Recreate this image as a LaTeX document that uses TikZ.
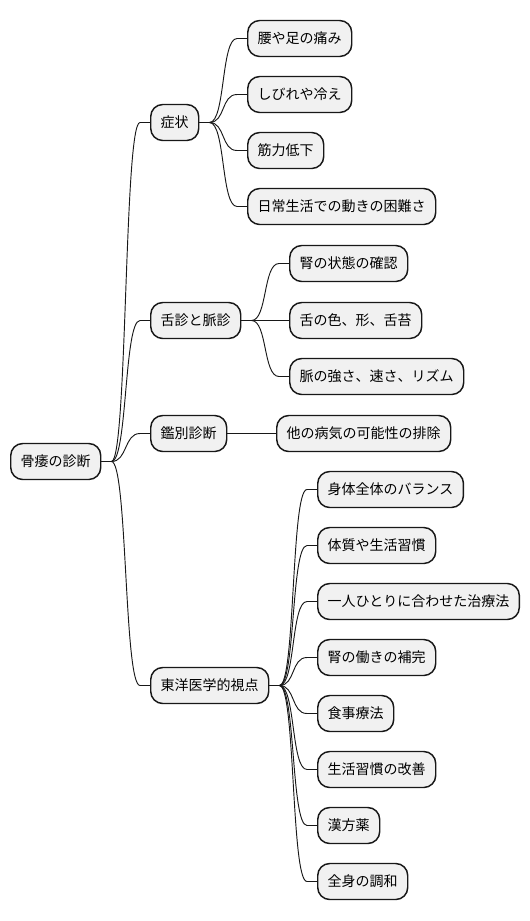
\documentclass[tikz,border=0pt]{standalone}
\usepackage{fontspec}
\newfontfamily\jpfont{Noto Sans CJK JP}
\definecolor{boxfill}{HTML}{F1F1F1}
\definecolor{boxline}{HTML}{181818}
\tikzset{
  topic/.style={draw=boxline,fill=boxfill,line width=1.1pt,rounded corners=9pt,
    minimum height=27pt,inner xsep=7.5pt,inner ysep=0pt,anchor=west,
    font=\jpfont\fontsize{10.5pt}{12pt}\selectfont},
  link/.style={draw=boxline,line width=0.7pt},
  branch/.style={to path={-- ++(10,0) .. controls +(16,0) and +(-16,0) .. ([xshift=-7.5pt]\tikztotarget.west) -- (\tikztotarget.west)}}
}
\begin{document}
\begin{tikzpicture}[x=0.75pt,y=-0.75pt]
\useasboundingbox (0,0) rectangle (530,921);

% root
\node[topic] (root) at (10,461.5) {骨痿の診断};

% first level
\node[topic] (sym) at (150,122.5) {症状};
\node[topic] (tongue) at (150,320.5) {舌診と脈診};
\node[topic] (diff) at (150,433.5) {鑑別診断};
\node[topic] (east) at (150,685.5) {東洋医学的視点};

% symptoms
\node[topic] (sym1) at (247,38.5) {腰や足の痛み};
\node[topic] (sym2) at (247,94.5) {しびれや冷え};
\node[topic] (sym3) at (247,150.5) {筋力低下};
\node[topic] (sym4) at (247,206.5) {日常生活での動きの困難さ};

% tongue and pulse
\node[topic] (tongue1) at (289,263.5) {腎の状態の確認};
\node[topic] (tongue2) at (289,320.5) {舌の色、形、舌苔};
\node[topic] (tongue3) at (289,376.5) {脈の強さ、速さ、リズム};

% differential
\node[topic] (diff1) at (276,433.5) {他の病気の可能性の排除};

% eastern view
\foreach \t [count=\i] in {身体全体のバランス,体質や生活習慣,一人ひとりに合わせた治療法,腎の働きの補完,食事療法,生活習慣の改善,漢方薬,全身の調和}
  \node[topic] (east\i) at (317,{433.5+56*\i}) {\t};

% connectors
\foreach \n in {sym,tongue,diff,east}
  \draw[link] (root.east) to[branch] (\n);
\foreach \i in {1,...,4}
  \draw[link] (sym.east) to[branch] (sym\i);
\foreach \i in {1,...,3}
  \draw[link] (tongue.east) to[branch] (tongue\i);
\draw[link] (diff.east) -- (diff1.west);
\foreach \i in {1,...,8}
  \draw[link] (east.east) to[branch] (east\i);

\end{tikzpicture}
\end{document}
